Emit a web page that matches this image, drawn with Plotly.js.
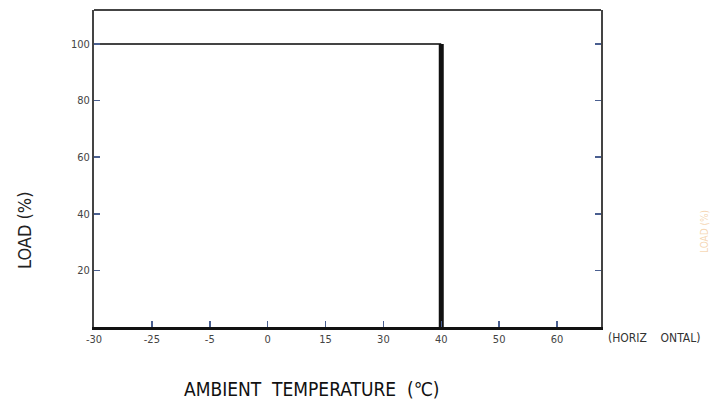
<!DOCTYPE html>
<html>
<head>
<meta charset="utf-8">
<script src="https://cdn.plot.ly/plotly-3.0.1.min.js"></script>
<style>html,body{margin:0;padding:0;background:#fff;}#chart{width:711px;height:408px;}</style>
</head>
<body>
<div id="chart"></div>
<script>
// Data
var tempCategories = ['-30', '-25', '-5', '0', '15', '30', '40', '50', '60'];
var curveTemp = ['-30', '40', '40'];
var curveLoad = [100, 100, 0];
var loadTicks = [20, 40, 60, 80, 100];

var FONT = '"Liberation Sans Narrow", "DejaVu Sans Condensed", "Arial Narrow", sans-serif';

var traces = [{
  x: curveTemp.slice(0, 2),
  y: curveLoad.slice(0, 2),
  type: 'scatter', mode: 'lines',
  line: {color: '#444444', width: 2},
  hoverinfo: 'skip', showlegend: false
}, {
  x: curveTemp.slice(1),
  y: curveLoad.slice(1),
  type: 'scatter', mode: 'lines',
  line: {color: '#111111', width: 5},
  hoverinfo: 'skip', showlegend: false
}];

var layout = {
  width: 711, height: 408,
  margin: {l: 94, r: 110, t: 10, b: 81},
  paper_bgcolor: '#ffffff', plot_bgcolor: '#ffffff',
  showlegend: false,
  xaxis: {
    type: 'category',
    categoryorder: 'array', categoryarray: tempCategories,
    tickvals: tempCategories, ticktext: tempCategories,
    range: [0, 8.76],
    showgrid: false, zeroline: false,
    showline: true, linecolor: '#111111', linewidth: 3,
    ticks: 'inside', ticklen: 6, tickwidth: 1.5, tickcolor: '#4a5f90',
    tickfont: {family: FONT, size: 11, color: '#444444'},
    fixedrange: true
  },
  yaxis: {
    range: [0, 112],
    tickvals: loadTicks,
    showgrid: false, zeroline: false,
    showline: true, linecolor: '#444444', linewidth: 2, mirror: 'ticks',
    ticks: 'inside', ticklen: 6, tickwidth: 1.5, tickcolor: '#4a5f90',
    tickfont: {family: FONT, size: 11, color: '#444444'},
    fixedrange: true
  },
  shapes: [{
    type: 'line', xref: 'paper', yref: 'paper',
    x0: 0, x1: 1, y0: 1, y1: 1,
    line: {color: '#444444', width: 2}
  }],
  annotations: [{
    text: 'AMBIENT&nbsp;&nbsp;TEMPERATURE&nbsp;&nbsp;(℃)',
    xref: 'paper', yref: 'paper', x: (312 - 94) / 507, y: -62 / 317,
    xanchor: 'center', yanchor: 'middle', showarrow: false,
    font: {family: FONT, size: 19, color: '#111111'}
  }, {
    text: 'LOAD (%)',
    xref: 'paper', yref: 'paper', x: (24 - 94) / 507, y: (327 - 230) / 317,
    xanchor: 'center', yanchor: 'middle', showarrow: false, textangle: -90,
    font: {family: FONT, size: 18, color: '#222222'}
  }, {
    text: '(HORIZ&nbsp;&nbsp;&nbsp;&nbsp;ONTAL)',
    xref: 'paper', yref: 'paper', x: (606 - 94) / 507, y: -11 / 317,
    xanchor: 'left', yanchor: 'middle', showarrow: false,
    font: {family: FONT, size: 12, color: '#333333'}
  }, {
    text: 'LOAD (%)',
    xref: 'paper', yref: 'paper', x: (704 - 94) / 507, y: (327 - 232) / 317,
    xanchor: 'center', yanchor: 'middle', showarrow: false, textangle: -90,
    font: {family: FONT, size: 10, color: 'rgba(230,150,60,0.4)'}
  }]
};

Plotly.newPlot('chart', traces, layout, {staticPlot: true, displayModeBar: false});
</script>
</body>
</html>
